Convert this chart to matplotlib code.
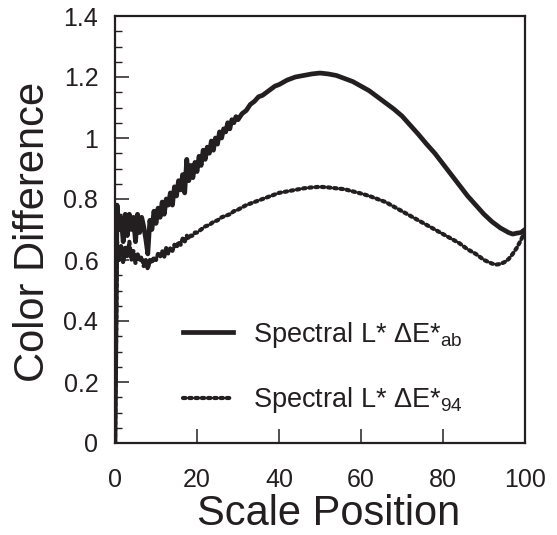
import matplotlib
matplotlib.use("Agg")
import matplotlib.pyplot as plt
from matplotlib.ticker import MultipleLocator

plt.rcParams['font.family'] = ['Liberation Sans', 'DejaVu Sans']
plt.rcParams['mathtext.fontset'] = 'custom'
plt.rcParams['mathtext.rm'] = 'Liberation Sans'
plt.rcParams['mathtext.it'] = 'Liberation Sans'

INK = '#231f20'

# Spectral L* dE*ab
x_ab = [0, 0.5, 1.0, 1.5, 2.0, 2.5, 3.0, 3.5, 4.0, 4.5, 5.0, 5.5, 6.0, 6.5, 7.0, 7.5,
        8.0, 8.5, 9.0, 9.5, 10.0, 10.5, 11.0, 11.5, 12.0, 12.5, 13.0, 13.5, 14.0, 14.5,
        15.0, 15.5, 16.0, 16.5, 17.0, 17.5, 18.0, 18.5, 19.0, 19.5, 20.0, 20.5, 21.0,
        21.5, 22.0, 22.5, 23.0, 23.5, 24.0, 24.5, 25.0, 25.5, 26.0, 26.5, 27.0, 27.5,
        28.0, 28.5, 29.0, 29.5, 30.0, 31, 32, 33, 34, 35, 36, 37, 38, 39, 40, 42, 44,
        46, 48, 50, 52, 54, 56, 58, 60, 62, 64, 66, 68, 70, 72, 74, 76, 78, 80, 82, 84,
        86, 88, 90, 92, 94, 96, 97, 98, 99, 100]
y_ab = [0.0, 0.78, 0.70, 0.74, 0.66, 0.75, 0.68, 0.75, 0.70, 0.74, 0.66, 0.75, 0.69,
        0.74, 0.71, 0.67, 0.62, 0.73, 0.70, 0.76, 0.72, 0.77, 0.74, 0.79, 0.75, 0.80,
        0.78, 0.82, 0.78, 0.84, 0.81, 0.86, 0.83, 0.88, 0.82, 0.93, 0.86, 0.91, 0.87,
        0.92, 0.89, 0.94, 0.91, 0.96, 0.93, 0.97, 0.95, 0.99, 0.96, 1.00, 0.98, 1.02,
        1.00, 1.03, 1.02, 1.05, 1.03, 1.06, 1.05, 1.07, 1.06, 1.08, 1.09, 1.11, 1.12,
        1.135, 1.14, 1.15, 1.16, 1.17, 1.175, 1.19, 1.20, 1.205, 1.21, 1.213, 1.21,
        1.205, 1.195, 1.185, 1.17, 1.155, 1.135, 1.115, 1.095, 1.072, 1.042, 1.012,
        0.98, 0.95, 0.915, 0.88, 0.845, 0.81, 0.78, 0.75, 0.725, 0.705, 0.69, 0.685,
        0.688, 0.69, 0.70]

# Spectral L* dE*94
x_94 = [0, 0.5, 1.0, 1.5, 2.0, 2.5, 3.0, 3.5, 4.0, 4.5, 5.0, 5.5, 6.0, 6.5, 7.0, 7.5,
        8.0, 8.5, 9.0, 9.5, 10.0, 10.5, 11.0, 11.5, 12.0, 12.5, 13.0, 13.5, 14.0, 14.5,
        15.0, 15.5, 16.0, 16.5, 17.0, 17.5, 18.0, 18.5, 19.0, 19.5, 20.0, 21, 22, 23,
        24, 25, 26, 27, 28, 29, 30, 32, 34, 36, 38, 40, 42, 44, 46, 48, 50, 52, 54, 56,
        58, 60, 62, 64, 66, 68, 70, 72, 74, 76, 78, 80, 82, 84, 86, 88, 90, 92, 93, 94,
        95, 96, 97, 98, 99, 100]
y_94 = [0.0, 0.66, 0.60, 0.65, 0.59, 0.64, 0.61, 0.66, 0.60, 0.63, 0.59, 0.62, 0.60,
        0.61, 0.58, 0.60, 0.57, 0.60, 0.59, 0.61, 0.60, 0.62, 0.61, 0.63, 0.61, 0.64,
        0.62, 0.64, 0.63, 0.65, 0.64, 0.66, 0.65, 0.67, 0.66, 0.68, 0.67, 0.68, 0.68,
        0.69, 0.69, 0.70, 0.71, 0.715, 0.725, 0.73, 0.74, 0.745, 0.75, 0.76, 0.765,
        0.78, 0.79, 0.80, 0.81, 0.82, 0.825, 0.83, 0.835, 0.838, 0.84, 0.838, 0.835,
        0.832, 0.825, 0.818, 0.81, 0.80, 0.79, 0.775, 0.76, 0.745, 0.73, 0.715, 0.70,
        0.685, 0.67, 0.655, 0.635, 0.62, 0.60, 0.588, 0.585, 0.587, 0.593, 0.603, 0.62,
        0.64, 0.665, 0.695]

labels = ['Spectral L* ΔE*$_{\\mathregular{ab}}$', 'Spectral L* ΔE*$_{\\mathregular{94}}$']
x_ticks = [0, 20, 40, 60, 80, 100]
y_ticks = [0, 0.2, 0.4, 0.6, 0.8, 1.0, 1.2, 1.4]
y_ticklabels = ['0', '0.2', '0.4', '0.6', '0.8', '1', '1.2', '1.4']

fig = plt.figure(figsize=(5.57, 5.35), dpi=100)
ax = fig.add_axes([115 / 557, 1 - 443 / 535, 410 / 557, 427 / 535])

ax.plot(x_ab, y_ab, color=INK, lw=3.4, solid_joinstyle='round', label=labels[0])
ax.plot(x_94, y_94, color=INK, lw=3.0, linestyle=(0, (0.6, 0.9)),
        dash_capstyle='round', label=labels[1])

ax.set_xlim(0, 100)
ax.set_ylim(0, 1.4)
ax.set_xticks(x_ticks)
ax.set_xticklabels([str(t) for t in x_ticks])
ax.set_yticks(y_ticks)
ax.set_yticklabels(y_ticklabels)
ax.yaxis.set_minor_locator(MultipleLocator(0.05))

for s in ax.spines.values():
    s.set_linewidth(1.6)
    s.set_color(INK)

ax.tick_params(axis='both', which='major', direction='in', length=10, width=1.1,
               labelsize=18, colors=INK)
ax.tick_params(axis='x', which='major', pad=18)
ax.tick_params(axis='y', which='major', pad=12)
ax.tick_params(axis='y', which='minor', direction='in', length=5, width=1.0, colors=INK)

ax.set_xlabel('Scale Position', fontsize=30, color=INK)
ax.set_ylabel('Color Difference', fontsize=30, color=INK)
ax.xaxis.set_label_coords(0.52, -0.12)
ax.yaxis.set_label_coords(-0.15, 0.494)

leg = ax.legend(loc='center left', bbox_to_anchor=(0.166, 0.177), frameon=False,
                fontsize=19.5, handlelength=1.85, handletextpad=0.75, labelspacing=1.3,
                borderpad=0, borderaxespad=0)
for t in leg.get_texts():
    t.set_color(INK)

fig.savefig('out.png', dpi=100)
